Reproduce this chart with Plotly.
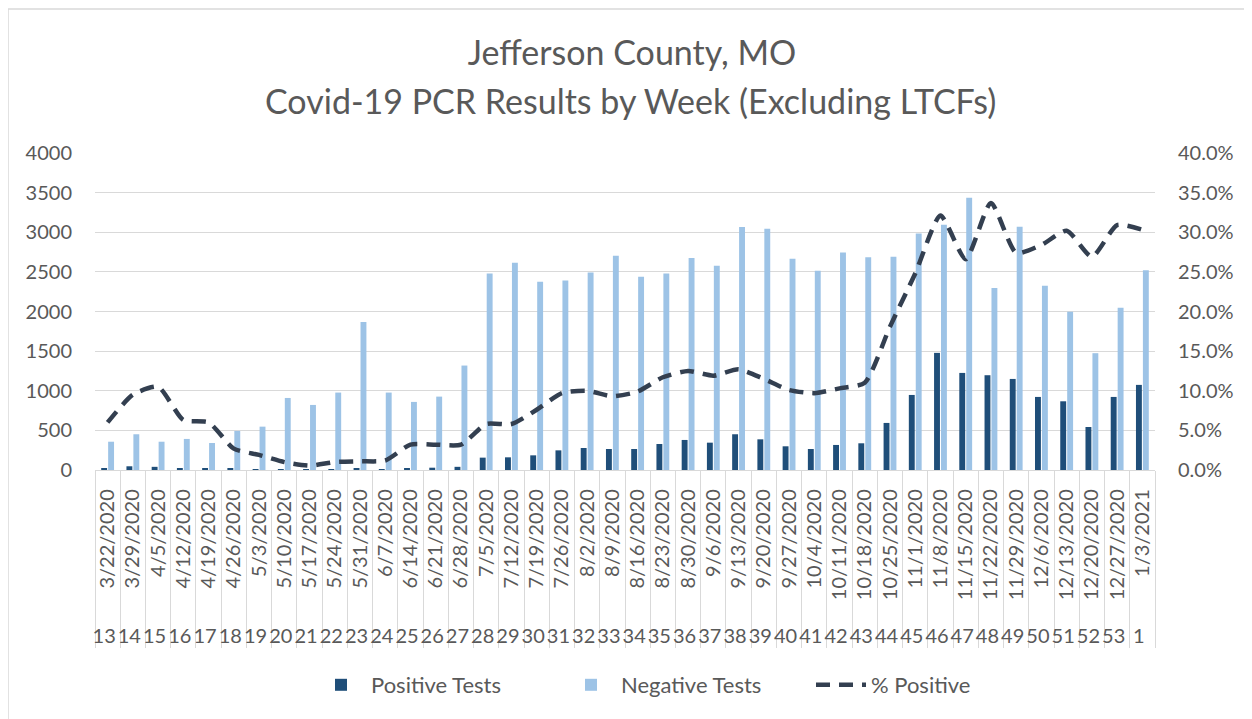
import plotly.graph_objects as go

weeks = ["13", "14", "15", "16", "17", "18", "19", "20", "21", "22", "23", "24", "25", "26",
         "27", "28", "29", "30", "31", "32", "33", "34", "35", "36", "37", "38", "39", "40",
         "41", "42", "43", "44", "45", "46", "47", "48", "49", "50", "51", "52", "53", "1"]
dates = ["3/22/2020", "3/29/2020", "4/5/2020", "4/12/2020", "4/19/2020", "4/26/2020", "5/3/2020",
         "5/10/2020", "5/17/2020", "5/24/2020", "5/31/2020", "6/7/2020", "6/14/2020", "6/21/2020",
         "6/28/2020", "7/5/2020", "7/12/2020", "7/19/2020", "7/26/2020", "8/2/2020", "8/9/2020",
         "8/16/2020", "8/23/2020", "8/30/2020", "9/6/2020", "9/13/2020", "9/20/2020", "9/27/2020",
         "10/4/2020", "10/11/2020", "10/18/2020", "10/25/2020", "11/1/2020", "11/8/2020",
         "11/15/2020", "11/22/2020", "11/29/2020", "12/6/2020", "12/13/2020", "12/20/2020",
         "12/27/2020", "1/3/2021"]
positive = [22, 47, 40, 25, 20, 14, 10, 9, 5, 10, 20, 12, 22, 29,
            40, 156, 160, 185, 248, 278, 265, 265, 328, 379, 345, 451, 387, 299,
            265, 316, 337, 594, 947, 1478, 1225, 1196, 1149, 922, 867, 543, 922, 1074]
negative = [357, 451, 357, 392, 341, 493, 547, 909, 821, 977, 1869, 977, 859, 926,
            1318, 2480, 2614, 2374, 2391, 2492, 2703, 2437, 2480, 2674, 2577, 3065, 3044, 2665,
            2513, 2745, 2686, 2690, 2985, 3094, 3435, 2295, 3069, 2324, 1996, 1474, 2046, 2522]
pct_positive = [6.0, 9.5, 10.5, 6.3, 6.0, 2.7, 1.9, 1.0, 0.55, 1.0, 1.1, 1.2, 3.2, 3.2,
                3.2, 5.8, 5.8, 7.6, 9.7, 10.0, 9.3, 9.9, 11.7, 12.5, 11.9, 12.7, 11.5, 10.1,
                9.7, 10.3, 11.0, 18.1, 24.8, 32.1, 26.6, 33.7, 27.4, 28.4, 30.2, 26.9, 30.9, 30.3]

TEXT = "#595959"
GRID = "#D9D9D9"
FONT = "Lato"
NB = "\u00a0"

# page body has an 8px margin; figure is sized to fit the window
W, H = 1244, 711
OFF = 8
PT, PB = 153, 470   # plot top / bottom in screen px
PH = PB - PT

x = [weeks, dates]

fig = go.Figure()
fig.add_trace(go.Bar(x=x, y=positive, name="Positive Tests", marker_color="#1F4E79",
                     marker_line_width=0))
fig.add_trace(go.Bar(x=x, y=negative, name="Negative Tests", marker_color="#9DC3E6",
                     marker_line_width=0))
fig.add_trace(go.Scatter(x=x, y=[p / 100 for p in pct_positive], name="% Positive",
                         yaxis="y2", mode="lines",
                         line=dict(color="#333F50", width=4.5, dash="14px,9px",
                                   shape="spline", smoothing=0.6)))

fig.update_layout(
    width=W, height=H,
    paper_bgcolor="white", plot_bgcolor="white",
    font=dict(family=FONT, color=TEXT, size=20),
    margin=dict(l=95 - OFF, r=W - (1155 - OFF), t=PT - OFF, b=H - (PB - OFF), autoexpand=False),
    barmode="group", bargap=0.45, bargroupgap=0.15,
    title=dict(text="Jefferson County, MO", x=(632 - OFF) / W, xref="container",
               xanchor="center", y=1 - (53 - OFF) / H, yref="container", yanchor="middle",
               font=dict(family=FONT, size=34, color=TEXT)),
    annotations=[dict(text="Covid-19 PCR Results by Week (Excluding LTCFs)",
                      xref="paper", yref="paper", x=(630 - 95) / 1060, y=1 + (PT - 101) / PH,
                      xanchor="center", yanchor="middle", showarrow=False,
                      font=dict(family=FONT, size=34, color=TEXT))],
    xaxis=dict(type="multicategory", tickangle=-90, showline=True, linecolor=GRID,
               linewidth=1, showdividers=True, dividercolor=GRID, dividerwidth=1,
               tickprefix=NB, ticksuffix=NB * 2, automargin=False,
               tickfont=dict(size=20, color=TEXT), showgrid=False),
    yaxis=dict(range=[0, 4000], dtick=500, gridcolor=GRID, gridwidth=1, showline=False,
               zeroline=False, tickfont=dict(size=20, color=TEXT), ticklabelstandoff=22,
               automargin=False),
    yaxis2=dict(range=[0, 0.4], dtick=0.05, tickformat=".1%", overlaying="y", side="right",
                showgrid=False, zeroline=False, showline=False, automargin=False,
                tickfont=dict(size=20, color=TEXT), ticklabelstandoff=22),
    legend=dict(orientation="h", x=(686 - 95) / 1060, xanchor="center", y=(PB - 685) / PH,
                yanchor="middle", font=dict(size=22, color=TEXT), itemwidth=50,
                entrywidth=185, entrywidthmode="pixels", traceorder="normal"),
    shapes=[dict(type="rect", xref="paper", yref="paper", x0=(8 - 95) / 1060, x1=1.12,
                 y0=-0.9, y1=1 + (PT - 9) / PH, line=dict(color=GRID, width=1.5),
                 layer="below")],
)

fig.write_html("out.html")
